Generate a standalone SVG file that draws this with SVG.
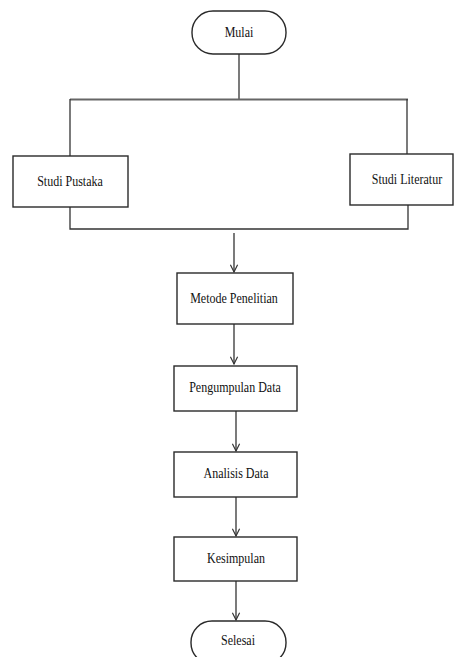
<svg xmlns="http://www.w3.org/2000/svg" width="456" height="657" viewBox="0 0 456 657">
<defs>
<style>
.box{fill:#fff;stroke:#2a2a2a;stroke-width:1.4}
.ln{fill:none;stroke:#333;stroke-width:1.3}
.lbl{font-family:"Liberation Serif","Times New Roman",serif;font-size:12px;fill:#111;text-anchor:middle}
</style>
<marker id="arr" viewBox="0 0 10 10" refX="9" refY="5" markerWidth="9" markerHeight="9" markerUnits="userSpaceOnUse" orient="auto">
<path d="M1,1 L9,5 L1,9" fill="none" stroke="#333" stroke-width="1.3"/>
</marker>
</defs>
<rect width="456" height="657" fill="#fff"/>
<g id="connectors">
<line class="ln" x1="239" y1="54" x2="239" y2="99"/>
<line x1="70" y1="99.5" x2="408" y2="99.5" stroke="#666" stroke-width="2"/>
<line class="ln" x1="70" y1="99" x2="70" y2="156"/>
<line class="ln" x1="407" y1="99" x2="407" y2="154"/>
<polyline class="ln" points="70,207 70,229 408,229 408,205"/>
<line class="ln" x1="234" y1="233" x2="234" y2="272" marker-end="url(#arr)"/>
<line class="ln" x1="234" y1="324" x2="234" y2="364" marker-end="url(#arr)"/>
<line class="ln" x1="236" y1="411" x2="236" y2="451" marker-end="url(#arr)"/>
<line class="ln" x1="236" y1="497" x2="236" y2="536" marker-end="url(#arr)"/>
<line class="ln" x1="236" y1="581" x2="236" y2="620" marker-end="url(#arr)"/>
</g>
<g id="mulai">
<rect class="box" x="192" y="11" width="94" height="43" rx="21" ry="21"/>
<text class="lbl" transform="translate(239,37) scale(1,1.25)">Mulai</text>
</g>
<g id="studi-pustaka">
<rect class="box" x="13" y="156" width="115" height="51"/>
<text class="lbl" transform="translate(70,186) scale(1,1.25)">Studi Pustaka</text>
</g>
<g id="studi-literatur">
<rect class="box" x="350" y="154" width="103" height="51"/>
<text class="lbl" transform="translate(407,184) scale(1,1.25)">Studi Literatur</text>
</g>
<g id="metode-penelitian">
<rect class="box" x="177" y="273" width="116" height="51"/>
<text class="lbl" transform="translate(234,303) scale(1,1.25)">Metode Penelitian</text>
</g>
<g id="pengumpulan-data">
<rect class="box" x="174" y="366" width="123" height="45"/>
<text class="lbl" transform="translate(235,392) scale(1,1.25)">Pengumpulan Data</text>
</g>
<g id="analisis-data">
<rect class="box" x="174" y="452" width="123" height="45"/>
<text class="lbl" transform="translate(236,478) scale(1,1.25)">Analisis Data</text>
</g>
<g id="kesimpulan">
<rect class="box" x="174" y="537" width="123" height="44"/>
<text class="lbl" transform="translate(236,563) scale(1,1.25)">Kesimpulan</text>
</g>
<g id="selesai">
<rect class="box" x="191" y="621" width="95" height="43" rx="21" ry="21"/>
<text class="lbl" transform="translate(238,645) scale(1,1.25)">Selesai</text>
</g>
</svg>
